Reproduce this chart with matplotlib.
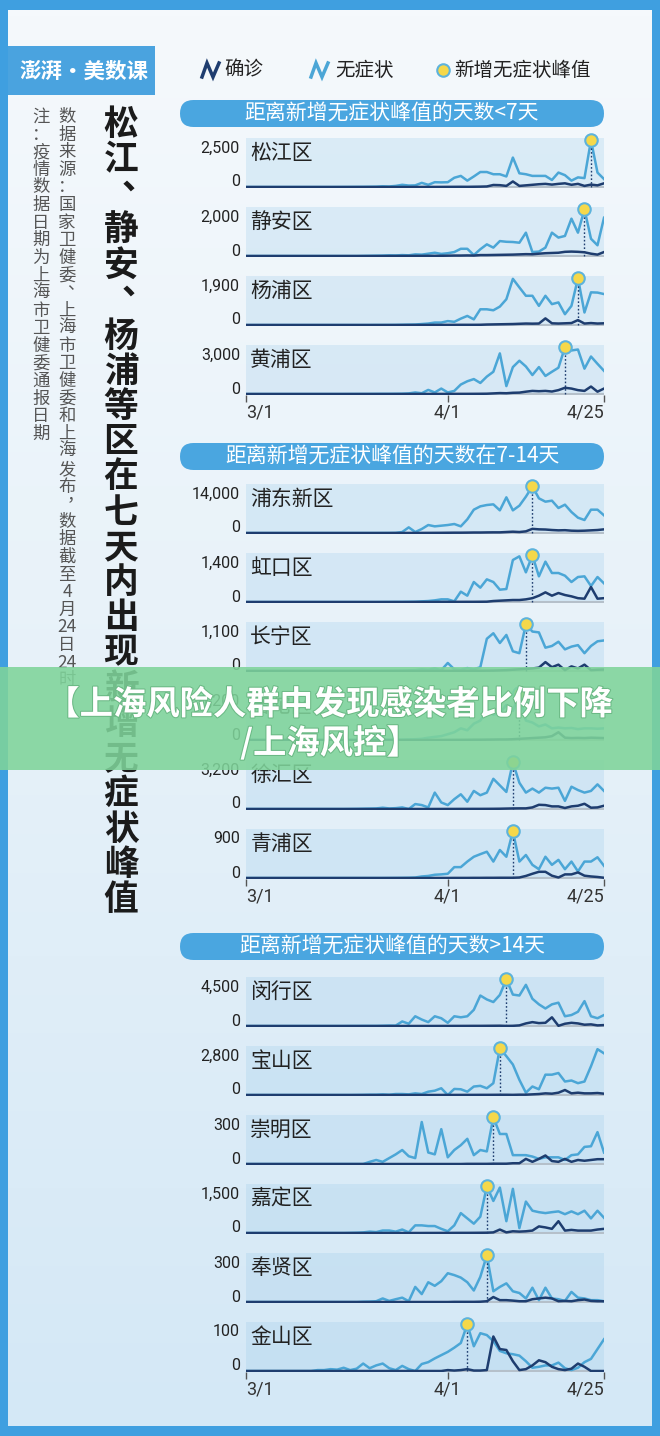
import matplotlib as mpl
mpl.use('Agg')
import matplotlib.pyplot as plt
from matplotlib.patches import Rectangle, FancyBboxPatch
from matplotlib.colors import LinearSegmentedColormap
import matplotlib.patheffects as pe
import numpy as np

plt.rcParams['font.family'] = ['Noto Sans CJK SC', 'DejaVu Sans']
NUM_FONT = ['Roboto', 'DejaVu Sans']

W, H = 660, 1436

date_labels = ['3/1', '4/1', '4/25']
date_pos = [0, 31, 55]

legend_labels = ['确诊', '无症状', '新增无症状峰值']
group_titles = ['距离新增无症状峰值的天数<7天',
                '距离新增无症状峰值的天数在7-14天',
                '距离新增无症状峰值的天数>14天']

title_text = '松江、静安、杨浦等区在七天内出现新增无症状峰值'
source_text = '数据来源：国家卫健委、上海市卫健委和上海发布，数据截至4月24日24时'
note_text = '注：疫情数据日期为上海市卫健委通报日期'
banner_lines = ['【上海风险人群中发现感染者比例下降', '/上海风控】']

# daily new cases 3/1 .. 4/25, asym = 无症状, conf = 确诊
songjiang_asym = [0, 0, 0, 0, 0, 0, 0, 0, 0, 0,
                  0, 0, 0, 0, 2, 3, 5, 8, 10, 15,
                  20, 40, 30, 60, 120, 80, 90, 224, 120, 260,
                  250, 260, 500, 600, 345, 570, 810, 810, 690, 690,
                  570, 1590, 740, 690, 600, 600, 600, 380, 780, 640,
                  345, 520, 480, 2520, 780, 430]
songjiang_conf = [0, 0, 0, 0, 0, 0, 0, 0, 0, 0,
                  0, 0, 0, 0, 0, 0, 0, 0, 0, 0,
                  0, 0, 0, 1, 2, 2, 3, 4, 5, 5,
                  6, 8, 10, 12, 10, 15, 20, 30, 110, 100,
                  60, 300, 60, 90, 120, 150, 170, 130, 170, 200,
                  120, 170, 60, 130, 90, 200]
jingan_asym = [0, 0, 0, 0, 0, 0, 0, 0, 0, 0,
               0, 0, 0, 0, 0, 0, 0, 0, 5, 10,
               15, 20, 30, 25, 40, 30, 70, 60, 100, 140,
               90, 120, 170, 310, 310, 40, 290, 500, 360, 640,
               610, 600, 570, 1000, 170, 190, 360, 1000, 790, 860,
               1600, 1000, 2000, 740, 460, 1640]
jingan_conf = [0, 0, 0, 0, 0, 0, 0, 0, 0, 0,
               0, 0, 0, 0, 0, 0, 0, 0, 0, 0,
               0, 0, 2, 3, 4, 5, 5, 6, 8, 8,
               10, 15, 20, 20, 25, 20, 40, 40, 45, 50,
               55, 60, 70, 80, 75, 100, 120, 130, 140, 180,
               190, 180, 160, 100, 60, 170]
yangpu_asym = [0, 0, 0, 0, 0, 0, 0, 0, 0, 0,
               0, 0, 0, 0, 0, 0, 0, 0, 0, 0,
               2, 2, 3, 5, 10, 15, 20, 40, 60, 100,
               100, 160, 130, 260, 370, 230, 640, 640, 600, 750,
               1050, 1880, 1530, 1190, 1190, 780, 1190, 850, 920, 440,
               780, 1900, 510, 1330, 1320, 1260]
yangpu_conf = [0, 0, 0, 0, 0, 0, 0, 0, 0, 0,
               0, 0, 0, 0, 0, 0, 0, 0, 0, 0,
               0, 0, 0, 0, 1, 2, 2, 3, 4, 5,
               5, 6, 6, 8, 8, 8, 10, 20, 25, 30,
               35, 40, 50, 60, 55, 60, 270, 70, 60, 70,
               80, 200, 60, 80, 60, 70]
huangpu_asym = [0, 0, 0, 0, 0, 0, 0, 0, 0, 0,
                0, 0, 0, 0, 0, 0, 2, 3, 5, 5,
                8, 10, 10, 15, 20, 40, 100, 50, 265, 100,
                350, 100, 200, 610, 820, 960, 710, 1120, 1430, 2610,
                510, 1730, 2140, 1770, 1220, 1730, 1160, 1430, 1690, 3000,
                2800, 2860, 1630, 2410, 1940, 1490]
huangpu_conf = [0, 0, 0, 0, 0, 0, 0, 0, 0, 0,
                0, 0, 0, 0, 0, 0, 0, 0, 0, 0,
                0, 0, 0, 0, 0, 1, 2, 3, 4, 5,
                5, 6, 8, 10, 10, 12, 15, 20, 40, 60,
                50, 80, 90, 150, 200, 180, 200, 160, 250, 400,
                350, 250, 200, 480, 150, 350]
pudong_asym = [0, 0, 0, 0, 0, 0, 0, 0, 0, 0,
               0, 0, 0, 0, 0, 0, 0, 0, 0, 0,
               0, 10, 20, 50, 300, 1700, 300, 1200, 2400, 2000,
               2200, 2400, 2700, 2000, 4100, 7000, 8000, 8400, 8600, 6800,
               10700, 6800, 8200, 10900, 14000, 10400, 9400, 9700, 7500, 8500,
               6300, 4600, 3900, 7000, 7000, 5300]
pudong_conf = [0, 0, 0, 0, 0, 0, 0, 0, 0, 0,
               0, 0, 0, 0, 0, 0, 0, 0, 0, 0,
               0, 0, 0, 5, 10, 20, 20, 30, 40, 50,
               60, 80, 100, 100, 120, 150, 150, 180, 200, 200,
               300, 400, 300, 500, 1250, 1100, 1050, 900, 800, 850,
               700, 650, 700, 800, 900, 1100]
hongkou_asym = [0, 0, 0, 0, 0, 0, 0, 0, 0, 0,
                0, 0, 0, 0, 0, 0, 0, 0, 0, 0,
                0, 2, 3, 5, 5, 8, 10, 20, 30, 50,
                80, 80, 20, 310, 190, 600, 430, 680, 600, 370,
                390, 1260, 1370, 890, 1400, 770, 1210, 870, 870, 790,
                600, 750, 770, 480, 750, 560]
hongkou_conf = [0, 0, 0, 0, 0, 0, 0, 0, 0, 0,
                0, 0, 0, 0, 0, 0, 0, 0, 0, 0,
                0, 0, 0, 0, 0, 0, 1, 2, 2, 3,
                3, 4, 5, 5, 6, 6, 8, 10, 30, 40,
                50, 60, 60, 80, 115, 190, 290, 190, 270, 210,
                170, 115, 100, 450, 100, 115]
changning_asym = [0, 0, 0, 0, 0, 0, 0, 0, 0, 0,
                  0, 0, 0, 0, 0, 0, 0, 0, 0, 0,
                  2, 3, 5, 8, 10, 15, 20, 40, 30, 60,
                  20, 190, 40, 30, 70, 40, 90, 760, 890, 660,
                  850, 465, 420, 1100, 930, 910, 550, 590, 690, 510,
                  575, 610, 420, 590, 700, 720]
changning_conf = [0, 0, 0, 0, 0, 0, 0, 0, 0, 0,
                  0, 0, 0, 0, 0, 0, 0, 0, 0, 0,
                  0, 0, 0, 0, 0, 0, 0, 1, 1, 2,
                  2, 3, 3, 4, 5, 5, 6, 8, 10, 15,
                  20, 30, 40, 50, 60, 80, 210, 90, 150, 20,
                  110, 60, 150, 20, 30, 35]
putuo_asym = [0, 0, 0, 0, 0, 0, 0, 0, 0, 0,
              0, 0, 0, 0, 0, 0, 0, 0, 0, 0,
              0, 2, 5, 8, 10, 15, 20, 30, 60, 80,
              100, 150, 200, 300, 250, 420, 500, 780, 650, 700,
              900, 750, 1200, 500, 450, 350, 400, 300, 320, 300,
              310, 280, 300, 300, 290, 300]
putuo_conf = [0, 0, 0, 0, 0, 0, 0, 0, 0, 0,
              0, 0, 0, 0, 0, 0, 0, 0, 0, 0,
              0, 0, 0, 0, 0, 0, 0, 0, 1, 2,
              2, 3, 4, 5, 6, 8, 8, 10, 12, 15,
              15, 20, 30, 40, 50, 60, 70, 100, 200, 60,
              50, 55, 50, 60, 55, 50]
xuhui_asym = [0, 0, 0, 0, 0, 0, 0, 0, 0, 0,
              0, 0, 0, 0, 0, 0, 5, 10, 20, 30,
              40, 90, 40, 60, 110, 0, 340, 270, 110, 1125,
              450, 270, 675, 1010, 500, 1240, 945, 1125, 2070, 1620,
              1170, 3200, 1800, 1125, 1400, 1125, 1460, 1400, 1460, 560,
              1530, 1300, 1125, 1240, 1690, 1240]
xuhui_conf = [0, 0, 0, 0, 0, 0, 0, 0, 0, 0,
              0, 0, 0, 0, 0, 0, 0, 0, 0, 0,
              0, 0, 0, 0, 0, 0, 1, 2, 2, 3,
              4, 5, 6, 8, 8, 10, 10, 12, 15, 20,
              30, 40, 45, 45, 110, 290, 270, 180, 180, 70,
              180, 225, 360, 90, 110, 225]
qingpu_asym = [0, 0, 0, 0, 0, 0, 0, 0, 0, 0,
               0, 0, 0, 0, 0, 0, 0, 0, 0, 0,
               0, 0, 1, 2, 3, 5, 10, 30, 40, 63,
               70, 82, 210, 210, 317, 410, 460, 507, 317, 540,
               410, 900, 317, 444, 254, 170, 410, 254, 350, 170,
               317, 127, 317, 317, 400, 235]
qingpu_conf = [0, 0, 0, 0, 0, 0, 0, 0, 0, 0,
               0, 0, 0, 0, 0, 0, 0, 0, 0, 0,
               0, 0, 0, 0, 0, 0, 0, 0, 0, 1,
               1, 1, 2, 2, 2, 3, 3, 4, 4, 5,
               5, 5, 10, 40, 82, 120, 120, 45, 10, 70,
               70, 108, 45, 30, 20, 5]
minhang_asym = [0, 0, 0, 0, 0, 0, 0, 0, 0, 0,
                0, 0, 0, 0, 0, 0, 5, 5, 10, 10,
                10, 25, 45, 40, 440, 220, 940, 625, 375, 940,
                750, 310, 940, 840, 940, 1560, 2940, 2560, 2310, 3000,
                4500, 3030, 2940, 3970, 2625, 2090, 1690, 2090, 2250, 940,
                1060, 1375, 2400, 940, 750, 1060]
minhang_conf = [0, 0, 0, 0, 0, 0, 0, 0, 0, 0,
                0, 0, 0, 0, 0, 0, 0, 0, 0, 0,
                0, 0, 0, 0, 1, 2, 3, 4, 5, 5,
                6, 8, 10, 10, 12, 15, 15, 20, 25, 30,
                10, 20, 60, 250, 375, 280, 310, 840, 20, 220,
                310, 250, 125, 160, 60, 90]
baoshan_asym = [0, 0, 0, 0, 0, 0, 0, 0, 0, 0,
                0, 0, 0, 0, 0, 0, 0, 5, 10, 20,
                20, 40, 20, 60, 60, 40, 100, 60, 200, 260,
                405, 0, 365, 345, 200, 510, 550, 405, 710, 2800,
                2330, 1830, 910, 140, 510, 345, 1220, 1220, 1320, 810,
                870, 710, 810, 1725, 2750, 2500]
baoshan_conf = [0, 0, 0, 0, 0, 0, 0, 0, 0, 0,
                0, 0, 0, 0, 0, 0, 0, 0, 0, 0,
                0, 0, 0, 0, 0, 0, 1, 2, 2, 3,
                4, 5, 5, 6, 8, 8, 10, 10, 12, 15,
                15, 10, 20, 20, 40, 60, 100, 80, 140, 300,
                100, 140, 100, 100, 120, 80]
chongming_asym = [0, 0, 0, 0, 0, 0, 0, 0, 0, 0,
                  0, 0, 0, 0, 0, 0, 0, 0, 0, 14,
                  26, 14, 38, 62, 90, 50, 38, 270, 74, 62,
                  224, 43, 90, 121, 162, 57, 90, 81, 300, 193,
                  193, 57, 57, 57, 48, 33, 43, 43, 43, 26,
                  57, 62, 110, 114, 205, 74]
chongming_conf = [0, 0, 0, 0, 0, 0, 0, 0, 0, 0,
                  0, 0, 0, 0, 0, 0, 0, 0, 0, 0,
                  0, 0, 0, 0, 0, 0, 0, 0, 0, 0,
                  0, 0, 0, 0, 1, 1, 1, 1, 2, 2,
                  2, 5, 5, 33, 14, 33, 55, 19, 14, 33,
                  14, 26, 21, 26, 31, 31]
jiading_asym = [0, 0, 0, 0, 0, 0, 0, 0, 0, 0,
                0, 0, 0, 0, 0, 0, 5, 10, 20, 45,
                30, 80, 80, 45, 112, 22, 246, 246, 224, 224,
                134, 56, 246, 640, 470, 300, 526, 1500, 1030, 1460,
                380, 1420, 157, 1010, 717, 670, 640, 670, 695, 605,
                695, 605, 717, 470, 717, 490]
jiading_conf = [0, 0, 0, 0, 0, 0, 0, 0, 0, 0,
                0, 0, 0, 0, 0, 0, 0, 0, 0, 0,
                0, 0, 0, 0, 0, 0, 1, 1, 2, 2,
                3, 3, 4, 5, 5, 6, 8, 10, 20, 112,
                20, 56, 45, 56, 78, 213, 180, 134, 380, 78,
                100, 78, 78, 78, 112, 134]
fengxian_asym = [0, 0, 0, 0, 0, 0, 0, 0, 0, 0,
                 0, 0, 0, 0, 0, 0, 0, 0, 2, 3,
                 5, 23, 7, 18, 28, 5, 97, 51, 127, 104,
                 134, 185, 173, 157, 127, 74, 162, 300, 69, 97,
                 120, 69, 58, 23, 92, 12, 92, 23, 18, 7,
                 65, 28, 23, 12, 12, 5]
fengxian_conf = [0, 0, 0, 0, 0, 0, 0, 0, 0, 0,
                 0, 0, 0, 0, 0, 0, 0, 0, 0, 0,
                 0, 0, 0, 0, 0, 0, 0, 0, 0, 0,
                 0, 0, 1, 1, 1, 1, 2, 5, 32, 12,
                 12, 9, 5, 5, 18, 23, 28, 23, 5, 7,
                 5, 12, 16, 7, 5, 5]
jinshan_asym = [0, 0, 0, 0, 0, 0, 0, 0, 0, 0,
                0, 2, 2, 4, 3, 7, 2, 5, 16, 6,
                12, 16, 6, 2, 11, 4, 0, 15, 19, 27,
                34, 41, 50, 60, 100, 53, 81, 77, 64, 43,
                38, 36, 33, 21, 7, 9, 12, 12, 18, 6,
                2, 7, 19, 26, 47, 68]
jinshan_conf = [0, 0, 0, 0, 0, 0, 0, 0, 0, 0,
                0, 0, 0, 0, 0, 0, 0, 0, 0, 0,
                0, 0, 0, 0, 0, 0, 0, 0, 0, 0,
                0, 2, 1, 2, 4, 1, 1, 2, 74, 47,
                45, 21, 2, 4, 12, 23, 19, 9, 4, 2,
                5, 16, 9, 0, 0, 0]

group_names = [['松江区', '静安区', '杨浦区', '黄浦区'],
               ['浦东新区', '虹口区', '长宁区', '普陀区', '徐汇区', '青浦区'],
               ['闵行区', '宝山区', '崇明区', '嘉定区', '奉贤区', '金山区']]
group_tops = [['2,500', '2,000', '1,900', '3,000'],
              ['14,000', '1,400', '1,100', '1,200', '3,200', '900'],
              ['4,500', '2,800', '300', '1,500', '300', '100']]
group_asym = [[songjiang_asym, jingan_asym, yangpu_asym, huangpu_asym],
              [pudong_asym, hongkou_asym, changning_asym, putuo_asym, xuhui_asym, qingpu_asym],
              [minhang_asym, baoshan_asym, chongming_asym, jiading_asym, fengxian_asym, jinshan_asym]]
group_conf = [[songjiang_conf, jingan_conf, yangpu_conf, huangpu_conf],
              [pudong_conf, hongkou_conf, changning_conf, putuo_conf, xuhui_conf, qingpu_conf],
              [minhang_conf, baoshan_conf, chongming_conf, jiading_conf, fengxian_conf, jinshan_conf]]

# layout (pixels)
first_base = [188, 534, 1027]
pill_top = [100, 443, 933]
row_step = 69
panel_h = 50

C_BORDER = '#3f9fe0'
C_PILL = '#4aa6e0'
C_LIGHT = '#4ba6d6'
C_DARK = '#1e3d6f'
C_DOT = '#f5d84a'


def vtokens(s):
    out = []
    for ch in s:
        if ch.isdigit() and out and out[-1].isdigit():
            out[-1] += ch
        else:
            out.append(ch)
    return out


def vtext(ax, s, x0, y0, step, **kw):
    # one token per cell, vertical; comma-like marks sit top-right as in vertical type
    for k, t in enumerate(vtokens(s)):
        dx, dy = 0, 0
        if t in '、，':
            dx, dy = step * 0.5, -step * 0.5
        ax.text(x0 + dx, y0 + k * step + dy, t, ha='center', va='center', **kw)


fig = plt.figure(figsize=(W / 100, H / 100), dpi=100, facecolor=C_BORDER)

bg = fig.add_axes([0, 0, 1, 1])
bg.set_xlim(0, W)
bg.set_ylim(H, 0)
bg.axis('off')
grad = np.linspace(0, 1, 256).reshape(-1, 1)
cm = LinearSegmentedColormap.from_list('bg', ['#f5f9fc', '#e6f1f9', '#d4e8f6'])
bg.imshow(grad, cmap=cm, extent=(8, 652, 1426, 10), aspect='auto', origin='upper')

# logo
bg.add_patch(Rectangle((8, 46), 147, 49, color='#4aa3df', lw=0))
bg.text(84, 71, '澎湃·美数课', color='white', fontsize=15.5, fontweight='bold',
        ha='center', va='center')

# legend
bg.plot([202, 207, 213, 219], [77, 63, 77, 63], color=C_DARK, lw=2.5, solid_joinstyle='miter')
bg.text(224, 70, legend_labels[0], fontsize=14, ha='left', va='center', color='#222')
bg.plot([311, 316, 322, 328], [77, 63, 77, 63], color=C_LIGHT, lw=2.5, solid_joinstyle='miter')
bg.text(335, 70, legend_labels[1], fontsize=14, ha='left', va='center', color='#222')
bg.plot([443], [70], 'o', ms=9, mfc=C_DOT, mec='#5db3dc', mew=1.5)
bg.text(454, 70, legend_labels[2], fontsize=14, ha='left', va='center', color='#222')

# vertical texts
vtext(bg, title_text, 121, 125, 35.2, fontsize=25, fontweight='bold', color='#1b1b1b')
vtext(bg, source_text, 67, 117, 17.6, fontsize=12.5, color='#555')
vtext(bg, note_text, 41, 117, 17.6, fontsize=12.5, color='#555')

# group header pills
for g in range(3):
    bg.add_patch(FancyBboxPatch((180, pill_top[g]), 424, 27,
                                boxstyle='round,pad=0,rounding_size=13.5',
                                color=C_PILL, lw=0))
    bg.text(392, pill_top[g] + 13.5, group_titles[g], color='white', fontsize=15,
            ha='center', va='center')

x = np.arange(len(songjiang_asym))

for g in range(3):
    n = len(group_names[g])
    for r in range(n):
        base = first_base[g] + r * row_step
        asym = group_asym[g][r]
        conf = group_conf[g][r]
        ax = fig.add_axes([246 / W, 1 - base / H, 358 / W, panel_h / H])
        top = max(asym) * 1.05
        lo = -top * 0.02
        ax.set_xlim(0, 55)
        ax.set_ylim(lo, top)
        ax.set_facecolor((0.62, 0.80, 0.92, 0.28))
        for s in ax.spines.values():
            s.set_visible(False)
        ax.axhline(0, color='#b5c0ca', lw=1.5, zorder=1)
        ax.plot(x, asym, color=C_LIGHT, lw=1.8, zorder=2)
        ax.plot(x, conf, color=C_DARK, lw=1.8, zorder=3)
        p = int(np.argmax(asym))
        ax.plot([p, p], [0, asym[p]], color=C_DARK, lw=1, ls=(0, (1.2, 1.5)), zorder=4)
        ax.plot([p], [asym[p]], 'o', ms=9, mfc=C_DOT, mec='#5db3dc', mew=1.5,
                zorder=5, clip_on=False)
        ax.text(-0.017, 0.80, group_tops[g][r], transform=ax.transAxes, ha='right',
                va='center', fontsize=11.5, family=NUM_FONT, color='#222')
        ax.text(-0.017, 0.12, '0', transform=ax.transAxes, ha='right',
                va='center', fontsize=11.5, family=NUM_FONT, color='#222')
        ax.text(0.012, 0.70, group_names[g][r], transform=ax.transAxes, ha='left',
                va='center', fontsize=15, color='#222')
        ax.set_yticks([])
        if r == n - 1:
            ax.set_xticks(date_pos)
            ax.set_xticklabels(date_labels, family=NUM_FONT, fontsize=13, color='#333')
            ax.tick_params(axis='x', length=5, width=1, color='#555', pad=1)
            for lab, ha in zip(ax.get_xticklabels(), ['left', 'center', 'right']):
                lab.set_ha(ha)
        else:
            ax.set_xticks([])

# overlay banner
top_ax = fig.add_axes([0, 0, 1, 1], zorder=10)
top_ax.set_xlim(0, W)
top_ax.set_ylim(H, 0)
top_ax.axis('off')
top_ax.patch.set_alpha(0)
top_ax.add_patch(Rectangle((0, 667), W, 103, color='#7fd49a', alpha=0.88, lw=0))
for k, line in enumerate(banner_lines):
    top_ax.text(330, 705 + k * 38, line, color='white', fontsize=24, fontweight='bold',
                ha='center', va='center',
                path_effects=[pe.withStroke(linewidth=1.5, foreground='#6bb985')])

fig.savefig('out.png', dpi=100, facecolor=C_BORDER)
